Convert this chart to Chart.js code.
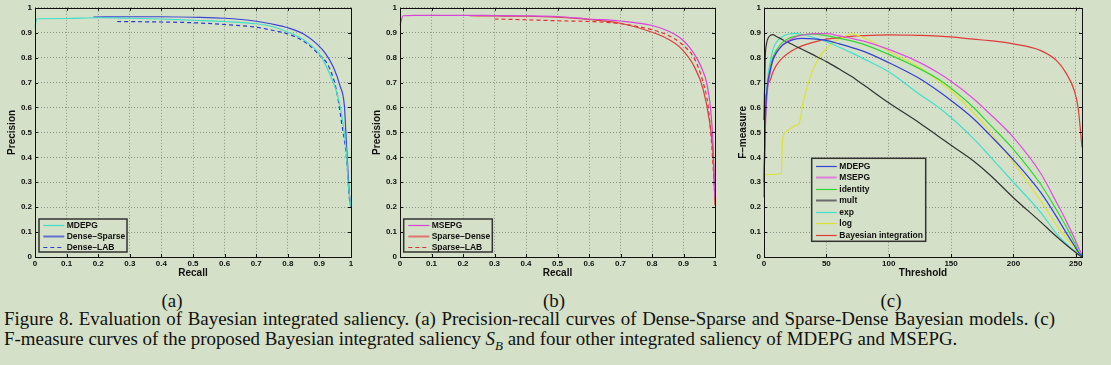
<!DOCTYPE html>
<html>
<head>
<meta charset="utf-8">
<script src="https://cdn.jsdelivr.net/npm/chart.js@4.4.1/dist/chart.umd.min.js"></script>
<style>
  body { margin: 0; width: 1111px; height: 365px; overflow: hidden; background: #d4e0c7; font-family: "Liberation Serif", "Times New Roman", serif; color: #111; }
  canvas { position: absolute; top: 0; }
  .sub { position: absolute; top: 291px; width: 40px; margin-left: -20px; text-align: center; font-size: 18.9px; line-height: 20px; }
  .cap { position: absolute; left: 4px; font-size: 18.9px; line-height: 20px; white-space: nowrap; }
</style>
</head>
<body>
<canvas id="pr-dense" width="366" height="285" style="left:0px"></canvas>
<canvas id="pr-sparse" width="366" height="285" style="left:366px"></canvas>
<canvas id="fmeasure" width="379" height="285" style="left:732px"></canvas>

<div class="sub" style="left:172px">(a)</div>
<div class="sub" style="left:554px">(b)</div>
<div class="sub" style="left:891px">(c)</div>
<div class="cap" style="top:308.6px; width:1051px; text-align:justify; text-align-last:justify; white-space:normal">Figure 8. Evaluation of Bayesian integrated saliency. (a) Precision-recall curves of Dense-Sparse and Sparse-Dense Bayesian models. (c)</div>
<div class="cap" style="top:328.6px">F-measure curves of the proposed Bayesian integrated saliency <i>S<sub style="font-size:13px">B</sub></i> and four other integrated saliency of MDEPG and MSEPG.</div>

<script>
// tick labels
const prTicks = [0, 0.1, 0.2, 0.3, 0.4, 0.5, 0.6, 0.7, 0.8, 0.9, 1];
const thresholdTicks = [0, 50, 100, 150, 200, 250];

// (a) Dense-Sparse model
const mdepgRecall = [0, 0.005, 0.02, 0.1, 0.2, 0.3, 0.4, 0.5, 0.6, 0.7, 0.75, 0.8, 0.85, 0.9, 0.92, 0.944, 0.955, 0.965, 0.973, 0.981, 0.986, 0.991, 0.996, 1];
const mdepgPrecision = [0.92, 0.955, 0.956, 0.957, 0.96, 0.958, 0.955, 0.95, 0.945, 0.936, 0.925, 0.903, 0.872, 0.815, 0.77, 0.7, 0.66, 0.608, 0.55, 0.475, 0.41, 0.3, 0.24, 0.2];
const denseSparseRecall = [0.185, 0.3, 0.4, 0.5, 0.6, 0.7, 0.75, 0.8, 0.85, 0.891, 0.92, 0.944, 0.965, 0.979, 0.983, 0.987, 0.991, 0.995, 1];
const denseSparsePrecision = [0.963, 0.964, 0.964, 0.962, 0.958, 0.946, 0.935, 0.92, 0.895, 0.856, 0.815, 0.762, 0.688, 0.608, 0.52, 0.42, 0.33, 0.25, 0.2];
const denseLabRecall = [0.26, 0.4, 0.5, 0.6, 0.7, 0.75, 0.8, 0.85, 0.891, 0.933, 0.955, 0.97, 0.986, 0.995, 1];
const denseLabPrecision = [0.945, 0.943, 0.94, 0.933, 0.922, 0.91, 0.895, 0.866, 0.822, 0.755, 0.662, 0.541, 0.395, 0.235, 0.2];

// (b) Sparse-Dense model
const msepgRecall = [0, 0.01, 0.05, 0.1, 0.2, 0.3, 0.4, 0.5, 0.6, 0.7, 0.8, 0.85, 0.893, 0.92, 0.946, 0.962, 0.973, 0.986, 0.994, 0.998, 1];
const msepgPrecision = [0.93, 0.968, 0.97, 0.97, 0.97, 0.969, 0.968, 0.965, 0.955, 0.947, 0.929, 0.908, 0.876, 0.84, 0.789, 0.745, 0.702, 0.596, 0.448, 0.3, 0.235];
const sparseDenseRecall = [0.22, 0.3, 0.4, 0.5, 0.6, 0.7, 0.8, 0.85, 0.893, 0.935, 0.962, 0.983, 0.994, 0.998, 1];
const sparseDensePrecision = [0.968, 0.967, 0.966, 0.962, 0.953, 0.938, 0.902, 0.875, 0.836, 0.762, 0.675, 0.541, 0.408, 0.28, 0.207];
const sparseLabRecall = [0.3, 0.4, 0.5, 0.6, 0.7, 0.8, 0.85, 0.893, 0.935, 0.962, 0.978, 0.988, 0.997, 1];
const sparseLabPrecision = [0.955, 0.952, 0.948, 0.945, 0.936, 0.912, 0.89, 0.856, 0.795, 0.702, 0.608, 0.475, 0.3, 0.23];

// (c) F-measure vs threshold
const thresholds = [0, 1, 2, 3, 5, 7, 10, 15, 20, 25, 30, 40, 50, 60, 70, 80, 100, 125, 140, 150, 168, 181, 200, 222, 235, 242, 249, 252, 255];
const mdepgF = [0.3, 0.55, 0.65, 0.7, 0.75, 0.79, 0.82, 0.85, 0.866, 0.874, 0.877, 0.875, 0.869, 0.856, 0.841, 0.825, 0.78, 0.715, 0.665, 0.628, 0.555, 0.49, 0.39, 0.258, 0.158, 0.1, 0.044, 0.02, 0.005];
const msepgF = [0.28, 0.5, 0.62, 0.68, 0.74, 0.785, 0.82, 0.852, 0.87, 0.882, 0.89, 0.896, 0.896, 0.888, 0.877, 0.866, 0.833, 0.78, 0.738, 0.705, 0.635, 0.575, 0.48, 0.335, 0.215, 0.148, 0.075, 0.04, 0.01];
const identityF = [0.3, 0.52, 0.63, 0.69, 0.76, 0.8, 0.83, 0.862, 0.878, 0.886, 0.891, 0.894, 0.888, 0.878, 0.867, 0.853, 0.813, 0.755, 0.713, 0.677, 0.6, 0.532, 0.432, 0.291, 0.185, 0.125, 0.057, 0.025, 0.005];
const multF = [0.55, 0.8, 0.855, 0.875, 0.889, 0.892, 0.885, 0.872, 0.86, 0.847, 0.835, 0.81, 0.784, 0.755, 0.725, 0.69, 0.619, 0.537, 0.484, 0.448, 0.385, 0.33, 0.238, 0.14, 0.08, 0.05, 0.022, 0.01, 0];
const expF = [0.3, 0.55, 0.65, 0.72, 0.782, 0.83, 0.862, 0.885, 0.895, 0.897, 0.894, 0.881, 0.864, 0.843, 0.82, 0.795, 0.743, 0.652, 0.6, 0.56, 0.475, 0.405, 0.3, 0.178, 0.091, 0.055, 0.024, 0.01, 0.002];
const bayesF = [0.24, 0.6, 0.66, 0.69, 0.71, 0.74, 0.77, 0.8, 0.82, 0.835, 0.846, 0.862, 0.874, 0.88, 0.885, 0.888, 0.891, 0.889, 0.886, 0.883, 0.874, 0.868, 0.855, 0.828, 0.786, 0.74, 0.665, 0.595, 0.44];
const logThresholds = [0, 5, 10, 14, 14.5, 15, 17, 21, 25, 28, 31.5, 37, 43.5, 50, 57, 64, 70, 77, 85, 100, 125, 140, 150, 168, 181, 200, 222, 235, 242, 249, 252, 255];
const logF = [0.33, 0.331, 0.332, 0.336, 0.42, 0.475, 0.5, 0.515, 0.527, 0.535, 0.622, 0.722, 0.795, 0.836, 0.866, 0.884, 0.895, 0.886, 0.868, 0.826, 0.76, 0.706, 0.666, 0.579, 0.505, 0.379, 0.225, 0.124, 0.08, 0.037, 0.015, 0.003];

const bg = "#d4e0c7";
const tickFont = { family: "'Liberation Sans', Arial, sans-serif", size: 8, weight: "bold" };
const titleFont = { family: "'Liberation Sans', Arial, sans-serif", size: 10, weight: "bold", lineHeight: 1.2 };

function points(xs, ys) {
  return xs.map((x, i) => ({ x: x, y: ys[i] }));
}

function line(label, xs, ys, color, dash, legendColor) {
  return {
    label: label,
    data: points(xs, ys),
    borderColor: color,
    borderWidth: 1.2,
    borderDash: dash || [],
    pointRadius: 0,
    fill: false,
    cubicInterpolationMode: "monotone",
    clip: 3,
    // some legend samples are drawn thicker and lighter in the original
    legendColor: legendColor,
  };
}

// box around the plot with matlab style inward ticks
const frame = {
  id: "frame",
  afterDatasetsDraw(chart) {
    const { ctx, chartArea: a, scales } = chart;
    const p = (v) => Math.round(v) + 0.5;
    ctx.save();
    ctx.strokeStyle = "#111";
    ctx.lineWidth = 1;
    ctx.setLineDash([]);
    ctx.strokeRect(p(a.left), p(a.top), Math.round(a.right) - Math.round(a.left), Math.round(a.bottom) - Math.round(a.top));
    ctx.beginPath();
    scales.x.ticks.forEach((t) => {
      const x = p(scales.x.getPixelForValue(t.value));
      ctx.moveTo(x, a.bottom); ctx.lineTo(x, a.bottom - 3);
      ctx.moveTo(x, a.top); ctx.lineTo(x, a.top + 3);
    });
    scales.y.ticks.forEach((t) => {
      const y = p(scales.y.getPixelForValue(t.value));
      ctx.moveTo(a.left, y); ctx.lineTo(a.left + 3, y);
      ctx.moveTo(a.right, y); ctx.lineTo(a.right - 3, y);
    });
    ctx.stroke();
    ctx.restore();
  },
};

// legend box drawn inside the plot like the matlab one
const boxLegend = {
  id: "boxLegend",
  afterDraw(chart, args, o) {
    const ctx = chart.ctx;
    ctx.save();
    ctx.fillStyle = bg;
    ctx.fillRect(o.left, o.top, o.width, o.height);
    ctx.strokeStyle = "#333";
    ctx.lineWidth = 1.5;
    ctx.strokeRect(o.left, o.top, o.width, o.height);
    ctx.font = "bold 8.5px 'Liberation Sans', Arial, sans-serif";
    ctx.textBaseline = "middle";
    chart.data.datasets.forEach((ds, i) => {
      const y = Math.round(o.top + o.first + i * o.row) + 0.5;
      ctx.strokeStyle = ds.legendColor || ds.borderColor;
      ctx.lineWidth = ds.legendColor ? 2 : ds.borderWidth;
      ctx.setLineDash(ds.borderDash);
      ctx.beginPath();
      ctx.moveTo(o.left + o.lineStart, y);
      ctx.lineTo(o.left + o.lineStart + o.lineLen, y);
      ctx.stroke();
      ctx.setLineDash([]);
      ctx.fillStyle = "#111";
      ctx.fillText(ds.label, o.left + o.textStart, y);
    });
    ctx.restore();
  },
};

function options(xTicks, xMax, xTitle, yTitle, yWidth, yTitlePad, padRight, legend) {
  const grid = { color: "#8d9788", lineWidth: 1, drawTicks: false };
  const border = { display: false, dash: [1, 2] };
  return {
    responsive: false,
    animation: false,
    devicePixelRatio: 1,
    layout: { padding: { top: 7, right: padRight, left: 0, bottom: 0 } },
    plugins: { legend: { display: false }, tooltip: { enabled: false }, boxLegend: legend },
    scales: {
      x: {
        type: "linear",
        min: 0,
        max: xMax,
        afterBuildTicks: (s) => { s.ticks = xTicks.map((v) => ({ value: v })); },
        afterFit: (s) => { s.height = 28; },
        grid: grid,
        border: border,
        ticks: { padding: 1.5, font: tickFont, color: "#111", maxRotation: 0, autoSkip: false, callback: (v) => String(v) },
        title: { display: true, text: xTitle, font: titleFont, color: "#111", padding: { top: 0, bottom: 5.7 } },
      },
      y: {
        type: "linear",
        min: 0,
        max: 1,
        afterBuildTicks: (s) => { s.ticks = prTicks.map((v) => ({ value: v })); },
        afterFit: (s) => { s.width = yWidth; },
        grid: grid,
        border: border,
        ticks: { padding: 3, font: tickFont, color: "#111", autoSkip: false, callback: (v) => String(v) },
        title: { display: true, text: yTitle, font: titleFont, color: "#111", padding: { top: yTitlePad, bottom: 0 } },
      },
    },
  };
}

new Chart(document.getElementById("pr-dense"), {
  type: "line",
  data: {
    datasets: [
      line("MDEPG", mdepgRecall, mdepgPrecision, "#40dfc8"),
      line("Dense–Sparse", denseSparseRecall, denseSparsePrecision, "#3a46d6", null, "#6272d4"),
      line("Dense–LAB", denseLabRecall, denseLabPrecision, "#2a3ad0", [4, 3]),
    ],
  },
  options: options(prTicks, 1, "Recall", "Precision", 35, 6.7, 15,
    { left: 39, top: 219, width: 88, height: 33, first: 6.3, row: 11, lineStart: 4.3, lineLen: 21, textStart: 27.7 }),
  plugins: [frame, boxLegend],
});

new Chart(document.getElementById("pr-sparse"), {
  type: "line",
  data: {
    datasets: [
      line("MSEPG", msepgRecall, msepgPrecision, "#d844d8"),
      line("Sparse–Dense", sparseDenseRecall, sparseDensePrecision, "#dc3c3c", null, "#e07470"),
      line("Sparse–LAB", sparseLabRecall, sparseLabPrecision, "#e03030", [4, 3]),
    ],
  },
  options: options(prTicks, 1, "Recall", "Precision", 34, 5.3, 17,
    { left: 37.7, top: 219, width: 88.6, height: 33, first: 6.3, row: 11, lineStart: 4.6, lineLen: 21, textStart: 28 }),
  plugins: [frame, boxLegend],
});

new Chart(document.getElementById("fmeasure"), {
  type: "line",
  data: {
    datasets: [
      line("MDEPG", thresholds, mdepgF, "#3340d8"),
      line("MSEPG", thresholds, msepgF, "#e050e0", null, "#e07ee0"),
      line("identity", thresholds, identityF, "#30d830"),
      line("mult", thresholds, multF, "#333333", null, "#6a6a6a"),
      line("exp", thresholds, expF, "#40e0d0"),
      line("log", logThresholds, logF, "#dde23a"),
      line("Bayesian integration", thresholds, bayesF, "#e03a3a"),
    ],
  },
  options: options(thresholdTicks, 255, "Threshold", "F–measure", 32, 5.3, 29,
    { left: 79.7, top: 158.3, width: 114, height: 83, first: 7.4, row: 11.55, lineStart: 4.3, lineLen: 20.7, textStart: 27.6 }),
  plugins: [frame, boxLegend],
});
</script>
</body>
</html>
